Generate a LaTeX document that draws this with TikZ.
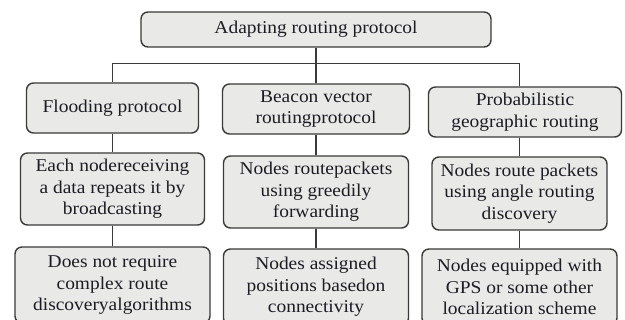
\documentclass[tikz,border=0pt]{standalone}
\usepackage{fontspec}
\setmainfont{Liberation Serif}[FakeStretch=1.08]
\definecolor{boxfill}{HTML}{E9EAE8}
\definecolor{boxline}{HTML}{3A3A3A}
\definecolor{txt}{HTML}{1C1C24}
\tikzset{
  box/.style={draw=boxline, fill=boxfill, line width=1.4pt, rounded corners=7pt,
    align=center, inner sep=0pt, text=txt, font=\fontsize{18}{21.5}\selectfont},
  conn/.style={draw=boxline, line width=1.4pt}
}
\begin{document}
\begin{tikzpicture}[x=1pt,y=-1pt]
\clip (0,0) rectangle (625,320);
\fill[white] (0,0) rectangle (625,320);
% top
\node[box, minimum width=350pt, minimum height=35pt] (top) at (316,29.5) {Adapting routing protocol};
% level 1
\node[box, minimum width=172pt, minimum height=50pt] (f1) at (112.5,108) {Flooding protocol};
\node[box, minimum width=187pt, minimum height=50pt] (b1) at (316,109) {Beacon vector\\routingprotocol};
\node[box, minimum width=193pt, minimum height=50pt] (p1) at (525,112) {Probabilistic\\geographic routing};
% level 2
\node[box, minimum width=184pt, minimum height=72pt] (f2) at (112.5,189) {Each nodereceiving\\a data repeats it by\\broadcasting};
\node[box, minimum width=185pt, minimum height=72pt] (b2) at (316,192) {Nodes routepackets\\using greedily\\forwarding};
\node[box, minimum width=175pt, minimum height=73pt] (p2) at (519.5,193.5) {Nodes route packets\\using angle routing\\discovery};
% level 3
\node[box, minimum width=195pt, minimum height=76pt] (f3) at (112.5,285) {Does not require\\complex route\\discoveryalgorithms};
\node[box, minimum width=185pt, minimum height=76pt] (b3) at (316,287) {Nodes assigned\\positions basedon\\connectivity};
\node[box, minimum width=195pt, minimum height=76pt] (p3) at (519.5,287) {Nodes equipped with\\GPS or some other\\localization scheme};
% connectors
\path (top.south) ++(0,16) coordinate (bus);
\draw[conn] (top.south) -- (bus);
\draw[conn] (f1.north) |- (bus) -| (p2.north |- p1.north);
\draw[conn] (bus) -- (bus |- b1.north);
\draw[conn] (f1.south) -- (f2.north);
\draw[conn] (f2.south) -- (f3.north);
\draw[conn] (b1.south) -- (b2.north);
\draw[conn] (b2.south) -- (b3.north);
\draw[conn] (p2.north |- p1.south) -- (p2.north);
\draw[conn] (p2.south) -- (p3.north);
\end{tikzpicture}
\end{document}
